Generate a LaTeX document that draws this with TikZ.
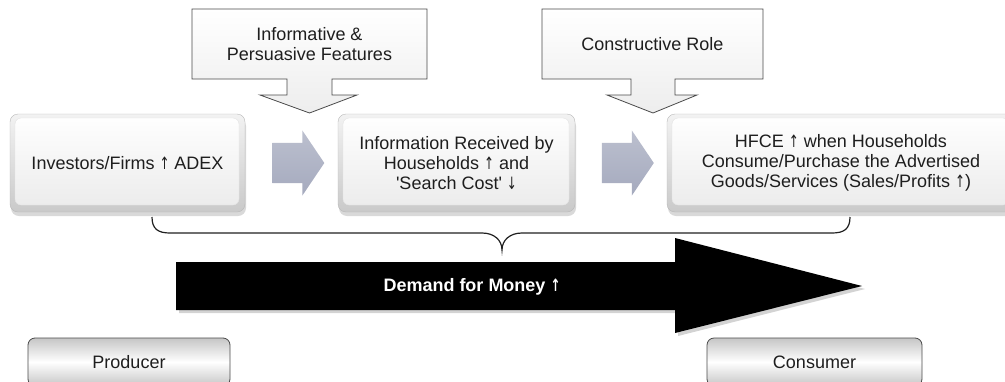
\documentclass[tikz,border=0pt]{standalone}
\usepackage{fontspec}
\setmainfont{Liberation Sans}
\newfontfamily\arrowfont{DejaVu Sans}
\usetikzlibrary{shapes.arrows,shadows,calc}
\definecolor{txt}{HTML}{1E1E1E}
\definecolor{steel}{RGB}{165,170,190}
\definecolor{edge}{HTML}{4A4A4A}
% slim up and down arrows set within the text
\newcommand\uparr{\scalebox{0.7}[1]{\fontsize{17}{20}\arrowfont ↑}}
\newcommand\downarr{\scalebox{0.7}[1]{\fontsize{17}{20}\arrowfont ↓}}
\begin{document}
\begin{tikzpicture}[x=1pt,y=-1pt,
  lbl/.style={font=\fontsize{18}{20}\selectfont, text=txt, align=center},
  face/.style={rounded corners=6pt, top color=white, bottom color=gray!16, draw=gray!22},
  stage/.style={lbl, rounded corners=8pt, draw=gray!55, top color=gray!10, bottom color=gray!42,
    minimum height=98pt, inner sep=0pt,
    drop shadow={shadow xshift=1pt, shadow yshift=-4pt, opacity=.3},
    path picture={\path[face] ([shift={(5pt,7pt)}]path picture bounding box.south west)
      rectangle ([shift={(-6pt,-4pt)}]path picture bounding box.north east);}},
  gaparrow/.style={single arrow, minimum height=52pt, minimum width=65pt,
    single arrow head extend=12.5pt, single arrow tip angle=112,
    inner xsep=0pt, inner ysep=20pt,
    top color=steel!75!white, bottom color=steel, draw=none},
  callout/.style={draw=edge, line width=.8pt, top color=white, bottom color=gray!14},
  role/.style={lbl, rounded corners=7pt, draw=edge, line width=.8pt,
    top color=gray!45, bottom color=gray!45, middle color=white,
    minimum height=48pt, inner sep=0pt},
  brace/.style={draw=gray!25!black, line width=1.2pt}
]
\useasboundingbox (0,0) rectangle (1005,381);
\clip (0,0) rectangle (1005,381);

% callouts feeding into the stages
\path[callout] (192,9) -- (427,9) -- (427,79) -- (332,79) -- (332,95) -- (357,95)
  -- (309.5,113) -- (260,95) -- (287,95) -- (287,79) -- (192,79) -- cycle;
\node[lbl] (c1) at (309.5,44) {Informative \&\\Persuasive Features};
\path[callout] (542,9) -- (763,9) -- (763,79) -- (675,79) -- (675,95) -- (697,95)
  -- (653,113) -- (607,95) -- (631,95) -- (631,79) -- (542,79) -- cycle;
\node[lbl] (c2) at (652.5,44) {Constructive Role};

% the three stages
\node[stage, minimum width=235pt] (b1) at (127.5,163) {Investors/Firms \uparr\ ADEX};
\node[stage, minimum width=237pt] (b2) at (456.5,163)
  {Information Received by\\Households \uparr\ and\\\textquotesingle Search Cost\textquotesingle{} \downarr};
\node[stage, minimum width=348pt] (b3) at (841,163)
  {HFCE \uparr\ when Households\\Consume/Purchase the Advertised\\Goods/Services (Sales/Profits \uparr)};

% block arrows between stages
\node[gaparrow] (a1) at ($(b1.east)!.5!(b2.west)$) {};
\node[gaparrow] (a2) at ($(b2.east)!.5!(b3.west)$) {};

% brace grouping the stages
\draw[brace] (152,217) .. controls (152,229) and (158,233) .. (170,233) -- (482,233)
  .. controls (494,233) and (502,240) .. (502,250)
  .. controls (502,240) and (510,233) .. (522,233) -- (832,233)
  .. controls (844,233) and (850,229) .. (850,217);

% demand for money arrow
\fill[black, drop shadow={shadow xshift=3pt, shadow yshift=-3pt, opacity=.35}]
  (176,262) -- (675,262) -- (675,238) -- (862,286) -- (675,333) -- (675,310) -- (176,310) -- cycle;
\node[lbl, text=white, font=\bfseries\fontsize{18}{20}\selectfont] (dm) at (472,287) {Demand for Money \uparr};

% end points
\node[role, minimum width=202pt] (prod) at (129,362) {Producer};
\node[role, minimum width=215pt] (cons) at (814.5,362) {Consumer};
\end{tikzpicture}
\end{document}
